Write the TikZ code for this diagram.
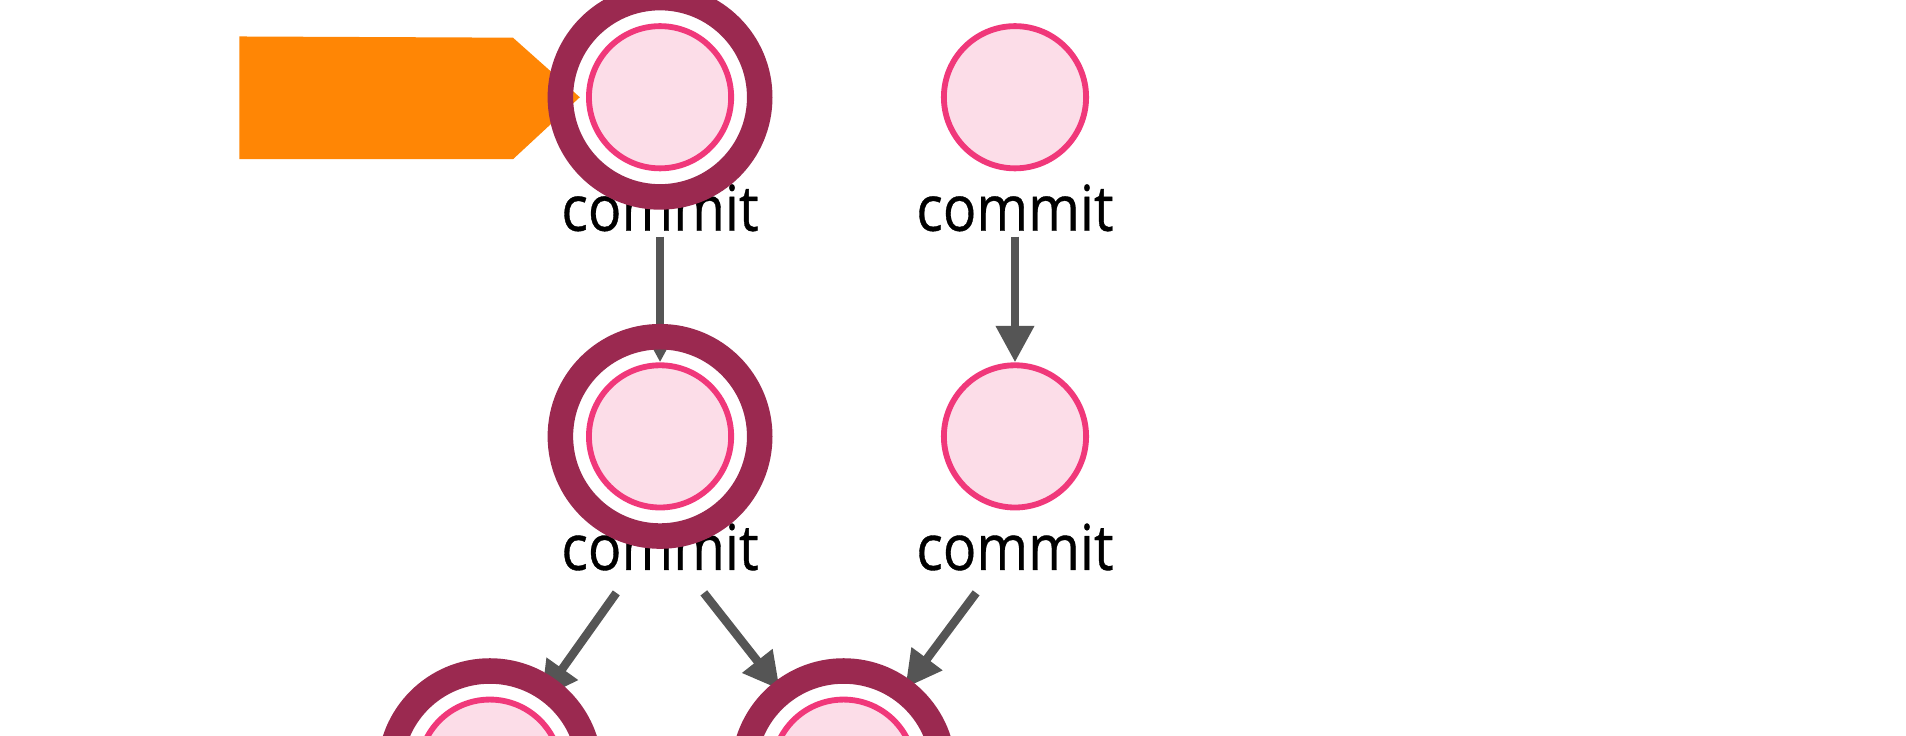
\documentclass[tikz,border=0pt]{standalone}
\usepackage{fontspec}
\setmainfont{Open Sans}
\usetikzlibrary{arrows.meta}
\definecolor{branchorange}{HTML}{FF8605}
\definecolor{ringred}{HTML}{9B2950}
\definecolor{commitpink}{HTML}{F0387A}
\definecolor{commitfill}{HTML}{FCDDE8}
\definecolor{edgegray}{HTML}{555555}
\newcommand{\commitname}{\scalebox{0.88}[1]{commit}}
\begin{document}
\begin{tikzpicture}[x=0.5pt, y=-0.5pt,
    commit/.style={circle, minimum size=58.5pt, inner sep=0pt, fill=commitfill, draw=commitpink, line width=2.4pt},
    lbl/.style={inner sep=2pt, font=\fontsize{26}{30}\selectfont\addfontfeature{FakeBold=0.6}},
    parent/.style={-{Triangle[length=15pt, width=15pt]}, line width=3.5pt, draw=edgegray},
    ring/.style={draw=ringred, line width=10.5pt}
]
    \clip (0,0) rectangle (1568,605);
    \fill[white] (0,0) rectangle (1568,605);

    \fill[branchorange] (197,30) -- (422,31) -- (477,80) -- (422,131) -- (197,131) -- cycle;

    \node[commit] at (543,80) (c1) {};
    \node[commit] at (835,80) (c2) {};
    \node[commit] at (543,359) (c3) {};
    \node[commit] at (835,359) (c4) {};
    \node[commit] at (403,634) (c5) {};
    \node[commit] at (694,634) (c6) {};

    \node[lbl] at (543,171) (l1) {\commitname};
    \node[lbl] at (835,171) (l2) {\commitname};
    \node[lbl] at (543,450) (l3) {\commitname};
    \node[lbl] at (835,450) (l4) {\commitname};

    \draw[parent] (l1) -- (c1 |- c3.north);
    \draw[parent] (l2) -- (c4);
    \draw[parent, shorten >=6pt] ([xshift=-18pt, yshift=-7pt]l3.south) -- (c5);
    \draw[parent, shorten >=12pt] ([xshift=18pt, yshift=-7pt]l3.south) -- (c6);
    \draw[parent, shorten >=12pt] ([xshift=-16pt, yshift=-7pt]l4.south) -- (c6);

    \draw[ring] (c1.center) circle[radius=41pt];
    \draw[ring] (c3.center) circle[radius=41pt];
    \draw[ring] (c5.center) circle[radius=41pt];
    \draw[ring] (c6.center) circle[radius=41pt];
\end{tikzpicture}
\end{document}
